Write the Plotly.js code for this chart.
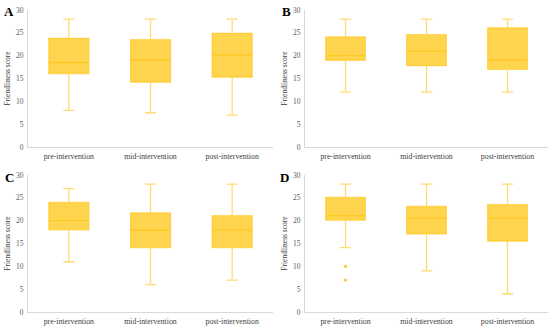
<!DOCTYPE html>
<html>
<head>
<meta charset="utf-8">
<script src="https://cdn.plot.ly/plotly-3.0.1.min.js"></script>
<style>html,body{margin:0;padding:0;background:#fff;}#chart{width:550px;height:331px;}</style>
</head>
<body>
<div id="chart"></div>
<script>
const categories = ['pre-intervention', 'mid-intervention', 'post-intervention'];
const yTitle = 'Friendliness score';
const panelLabels = ['A', 'B', 'C', 'D'];

// Panel A
const aLower = [8, 7.5, 7];
const aQ1 = [16.1, 14.2, 15.3];
const aMedian = [18.5, 19, 20.1];
const aQ3 = [23.8, 23.5, 24.9];
const aUpper = [28, 28, 28];

// Panel B
const bLower = [12, 12, 12];
const bQ1 = [19, 17.8, 17];
const bMedian = [20, 21, 19];
const bQ3 = [24.1, 24.6, 26.1];
const bUpper = [28, 28, 28];

// Panel C
const cLower = [11, 6, 7];
const cQ1 = [18, 14.1, 14.1];
const cMedian = [20, 17.9, 18];
const cQ3 = [24, 21.7, 21.1];
const cUpper = [27, 28, 28];

// Panel D
const dLower = [14.1, 9, 4];
const dQ1 = [20.1, 17.1, 15.5];
const dMedian = [21.1, 20.6, 20.6];
const dQ3 = [25.1, 23.1, 23.5];
const dUpper = [28, 28, 28];
const dOutlierCats = ['pre-intervention', 'pre-intervention'];
const dOutlierVals = [10, 7];

const FILL = '#FFD54F';
const LINE = 'rgba(255,192,0,0.55)';
const FONT = 'Liberation Serif, Times New Roman, serif';

function boxTrace(lower, q1, med, q3, upper, n) {
  return {
    type: 'box',
    x: categories,
    lowerfence: lower, q1: q1, median: med, q3: q3, upperfence: upper,
    fillcolor: FILL,
    line: {color: LINE, width: 1.3},
    whiskerwidth: 0.28,
    width: 0.49,
    boxpoints: false,
    hoverinfo: 'skip',
    xaxis: 'x' + (n === 1 ? '' : n),
    yaxis: 'y' + (n === 1 ? '' : n),
    showlegend: false
  };
}

const data = [
  boxTrace(aLower, aQ1, aMedian, aQ3, aUpper, 1),
  boxTrace(bLower, bQ1, bMedian, bQ3, bUpper, 2),
  boxTrace(cLower, cQ1, cMedian, cQ3, cUpper, 3),
  boxTrace(dLower, dQ1, dMedian, dQ3, dUpper, 4),
  {
    type: 'scatter', mode: 'markers',
    x: dOutlierCats, y: dOutlierVals,
    marker: {color: '#FFC72C', size: 3.2},
    xaxis: 'x4', yaxis: 'y4', showlegend: false, hoverinfo: 'skip'
  }
];

const W = 550, H = 331;
function xd(l, r) { return [l / W, r / W]; }
function yd(top, bottom) { return [1 - bottom / H, 1 - top / H]; }

function xax(domain, anchor) {
  return {
    domain: domain, anchor: anchor,
    type: 'category', range: [-0.5, 2.5],
    showline: true, linecolor: '#d9d9d9', linewidth: 1,
    showgrid: false, zeroline: false, ticks: '',
    ticklabelstandoff: 2,
    tickfont: {family: FONT, size: 7.8, color: '#404040'},
    fixedrange: true
  };
}
function yax(domain, anchor) {
  return {
    domain: domain, anchor: anchor,
    range: [0, 30], dtick: 5, tick0: 0,
    showline: true, linecolor: '#d9d9d9', linewidth: 1,
    showgrid: false, zeroline: false, ticks: '',
    ticklabelstandoff: 2,
    tickfont: {family: FONT, size: 7.5, color: '#595959'},
    title: {text: yTitle, font: {family: FONT, size: 7.5, color: '#404040'}, standoff: 4},
    fixedrange: true
  };
}

const layout = {
  width: W, height: H,
  margin: {l: 0, r: 0, t: 0, b: 0},
  paper_bgcolor: '#fff', plot_bgcolor: '#fff',
  showlegend: false,
  xaxis: xax(xd(28, 273), 'y'),
  yaxis: yax(yd(10, 147), 'x'),
  xaxis2: xax(xd(305, 548), 'y2'),
  yaxis2: yax(yd(10, 147), 'x2'),
  xaxis3: xax(xd(28, 273), 'y3'),
  yaxis3: yax(yd(175, 312), 'x3'),
  xaxis4: xax(xd(305, 548), 'y4'),
  yaxis4: yax(yd(175, 312), 'x4'),
  annotations: [
    [9, 11.5], [286, 11.5], [9, 177], [284, 177]
  ].map((p, i) => ({
    text: '<b>' + panelLabels[i] + '</b>',
    xref: 'paper', yref: 'paper',
    x: p[0] / W, y: 1 - p[1] / H,
    xanchor: 'center', yanchor: 'middle',
    showarrow: false,
    font: {family: FONT, size: 13, color: '#000'}
  }))
};

Plotly.newPlot('chart', data, layout, {staticPlot: true, displayModeBar: false});
</script>
</body>
</html>
